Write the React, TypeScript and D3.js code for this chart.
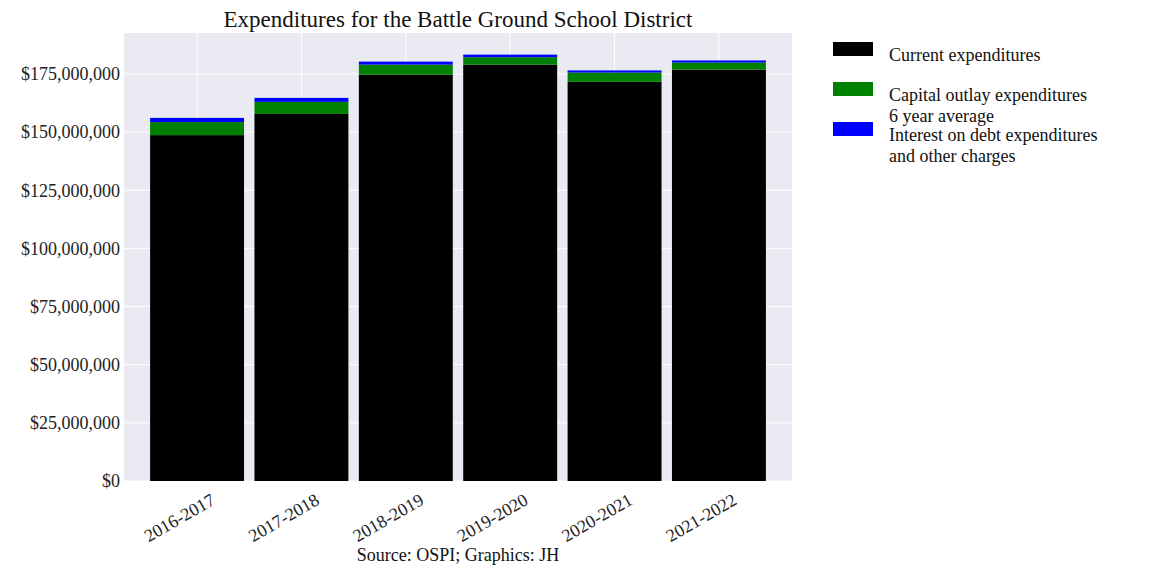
import React from 'react';
import * as d3 from 'd3';

const years = ['2016-2017', '2017-2018', '2018-2019', '2019-2020', '2020-2021', '2021-2022'];
const current = [148.7e6, 157.8e6, 174.7e6, 179.0e6, 171.6e6, 176.9e6];
const capital = [5.6e6, 5.2e6, 4.3e6, 3.2e6, 4.0e6, 3.0e6];
const interest = [1.8e6, 1.7e6, 1.3e6, 1.1e6, 0.9e6, 0.9e6];
const yTicks = [0, 25e6, 50e6, 75e6, 100e6, 125e6, 150e6, 175e6];
const seriesNames = [['Current expenditures'], ['Capital outlay expenditures', '6 year average'], ['Interest on debt expenditures', 'and other charges']];
const colors = ['#000000', '#008000', '#0000ff'];

const W = 1152, H = 576;
const left = 124, right = 792, top = 33, bottom = 481;
const font = '"Liberation Serif", "DejaVu Serif", serif';

export default function App() {
  const x = d3.scaleLinear().domain([-0.7, 5.7]).range([left, right]);
  const y = d3.scaleLinear().domain([0, 192.6e6]).range([bottom, top]);
  const bw = x(0.9) - x(0);
  const stack = years.map((yr, i) => {
    const vals = [current[i], capital[i], interest[i]];
    let acc = 0;
    return vals.map(v => { const s = acc; acc += v; return [s, acc]; });
  });
  const fmt = (v: number) => '$' + d3.format(',')(v);

  return (
    <svg width={W} height={H} style={{ position: 'absolute', left: 0, top: 0, background: '#fff' }} fontFamily={font}>
      <rect x={left} y={top} width={right - left} height={bottom - top} fill="#eaeaf2" />
      {yTicks.map(t => <line key={t} x1={left} x2={right} y1={y(t)} y2={y(t)} stroke="#fff" strokeWidth={1} />)}
      {years.map((_, i) => <line key={i} x1={x(i)} x2={x(i)} y1={top} y2={bottom} stroke="#fff" strokeWidth={1} />)}
      {stack.map((segs, i) => segs.map(([a, b], j) => (
        <rect key={i + '-' + j} x={x(i) - bw / 2} width={bw} y={y(b)} height={y(a) - y(b)} fill={colors[j]} />
      )))}
      {yTicks.map(t => (
        <text key={t} x={left - 4} y={y(t)} dy="0.35em" textAnchor="end" fontSize={18} fill="#222">{fmt(t)}</text>
      ))}
      {years.map((yr, i) => (
        <text key={yr} transform={`translate(${x(i) + 12},${bottom + 10}) rotate(-30)`} textAnchor="end" dy="0.8em" fontSize={18} fill="#222">{yr}</text>
      ))}
      <text x={(left + right) / 2} y={27} textAnchor="middle" fontSize={23} fill="#111">Expenditures for the Battle Ground School District</text>
      <text x={458} y={561} textAnchor="middle" fontSize={18} fill="#111">Source: OSPI; Graphics: JH</text>
      {seriesNames.map((lines, i) => {
        const ly = 49 + i * 40;
        return (
          <g key={i}>
            <rect x={833} y={ly - 7} width={40} height={14} fill={colors[i]} />
            {lines.map((l, k) => (
              <text key={k} x={889} y={ly - 7 + k * 21} dy="0.35em" dominantBaseline="auto" fontSize={18} fill="#111" style={{}}>
                <tspan y={ly + k * 21 + 6}>{l}</tspan>
              </text>
            ))}
          </g>
        );
      })}
    </svg>
  );
}
